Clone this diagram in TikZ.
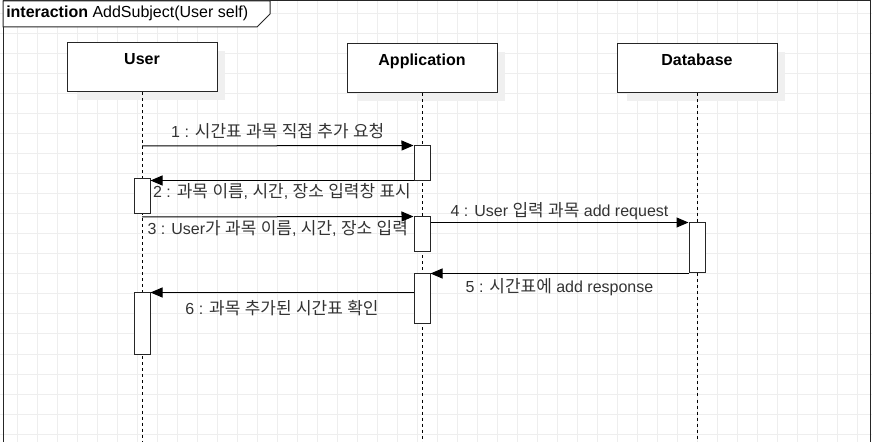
\documentclass[tikz,border=0pt]{standalone}
\usepackage{fontspec}
\setmainfont{Liberation Sans}
\newfontfamily\krfont[Scale=1.06]{Noto Sans CJK KR}
\usetikzlibrary{arrows.meta}
\newcommand\K[1]{{\krfont #1}}
\definecolor{gridc}{HTML}{EEEEEE}
\definecolor{shadowc}{HTML}{F0F0F0}
\definecolor{labc}{HTML}{333333}
\begin{document}
\begin{tikzpicture}[x=0.75pt,y=-0.75pt,
  gridline/.style={draw=gridc,line width=0.75pt},
  objbox/.style={draw=black!85,fill=white,line width=0.75pt,inner sep=0pt,rectangle},
  objshadow/.style={fill=shadowc,draw=none},
  objlabel/.style={anchor=center,font=\bfseries\fontsize{12pt}{14pt}\selectfont,text height=0.72em,text depth=0pt,inner sep=0pt},
  actbar/.style={draw=black!85,fill=white,line width=0.75pt,inner sep=0pt,rectangle,minimum width=12pt},
  lifeline/.style={draw=black,line width=0.75pt,dash pattern=on 2.25pt off 2.25pt},
  msg/.style={draw=black,line width=0.75pt,-{Triangle[length=9pt,width=7.5pt]}},
  msglabel/.style={font=\fontsize{12pt}{14pt}\selectfont,text=labc,inner sep=0pt,anchor=center,text height=0.76em,text depth=0pt}
]
\useasboundingbox (0,0) rectangle (872,442);
\clip (0,0) rectangle (872,442);
% grid
\foreach \gx in {17,37,...,857} \draw[gridline] (\gx,0) -- (\gx,442);
\foreach \gy in {14,34,...,434} \draw[gridline] (0,\gy) -- (872,\gy);
% frame
\draw[line width=0.75pt,draw=black!85] (3,1) rectangle (870,460);
\draw[line width=0.75pt,draw=black!85,fill=white] (3,1) -- (270,1) -- (270,14) -- (257,27) -- (3,27) -- cycle;
\node[anchor=west,inner sep=0pt,font=\fontsize{12pt}{14pt}\selectfont,text height=0.72em,text depth=0pt] (title) at (6,12.5) {\textbf{interaction} AddSubject(User self)};
% shadows
\fill[objshadow] (77,51) rectangle (225,100);
\fill[objshadow] (357,52) rectangle (505,101);
\fill[objshadow] (627,52) rectangle (785,101);
% objects
\node[objbox,minimum width=112.5pt,minimum height=36.75pt] (user) at (142,67.5) {};
\node[objbox,minimum width=112.5pt,minimum height=36.75pt] (app) at (422,68.5) {};
\node[objbox,minimum width=120pt,minimum height=36.75pt] (db) at (697,68.5) {};
\node[objlabel] (userlab) at ([yshift=-13.2pt]user.north) {User};
\node[objlabel] (applab) at ([yshift=-13.2pt]app.north) {Application};
\node[objlabel] (dblab) at ([yshift=-13.2pt]db.north) {Database};
% lifeline ends
\coordinate (uend) at (142,450);
\coordinate (aend) at (422,450);
\coordinate (dend) at (697,450);
\draw[lifeline] (user.south) -- (uend);
\draw[lifeline] (app.south) -- (aend);
\draw[lifeline] (db.south) -- (dend);
% activation bars
\node[actbar,minimum height=26.25pt] (ab1) at (422,163.5) {};
\node[actbar,minimum height=26.25pt] (ub1) at (142,196.5) {};
\node[actbar,minimum height=26.25pt] (ab2) at (422,234.5) {};
\node[actbar,minimum height=37.5pt] (db1) at (697,248) {};
\node[actbar,minimum height=37.5pt] (ab3) at (422,299) {};
\node[actbar,minimum height=45.75pt] (ub2) at (142,323.5) {};
% message start points on lifelines
\coordinate (u1) at (142,146);
\coordinate (u3) at (142,217);
% messages
\draw[msg] (u1) -- node[msglabel,yshift=9.75pt] (l1) {1 : \K{시간표} \K{과목} \K{직접} \K{추가} \K{요청}} (ab1.north west);
\draw[msg] ([yshift=0.75pt]ab1.south west) -- node[msglabel,yshift=-9pt] (l2) {2 : \K{과목} \K{이름}, \K{시간}, \K{장소} \K{입력창} \K{표시}} ([yshift=0.75pt]ab1.south west -| ub1.east);
\draw[msg] (u3) -- node[msglabel,yshift=-9.75pt] (l3) {3 : User\K{가} \K{과목} \K{이름}, \K{시간}, \K{장소} \K{입력}} (ab2.north west);
\draw[msg] (ab2.east |- db1.north west) -- node[msglabel,yshift=8.6pt] (l4) {4 : User \K{입력} \K{과목} add request} (db1.north west);
\draw[msg] (db1.south west) -- node[msglabel,yshift=-10.3pt] (l5) {5 : \K{시간표에} add response} (db1.south west -| ab3.east);
\draw[msg] (ab3.west |- ub2.north) -- node[msglabel,yshift=-12.75pt] (l6) {6 : \K{과목} \K{추가된} \K{시간표} \K{확인}} (ub2.north east);
\end{tikzpicture}
\end{document}
